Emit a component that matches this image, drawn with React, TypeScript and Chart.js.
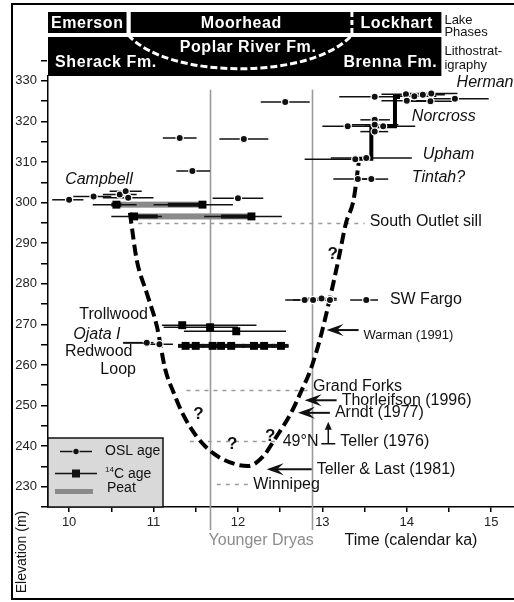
import { useEffect, useRef } from 'react';
import { Chart, registerables } from 'chart.js';

Chart.register(...registerables);

const FONT = '"Liberation Sans", Arial, Helvetica, sans-serif';
const INK = '#111';

// Axis tick values (calendar ka, metres a.s.l.)
const timeTicks = [10, 11, 12, 13, 14, 15];
const elevationTicks = [230, 240, 250, 260, 270, 280, 290, 300, 310, 320, 330];

// Lake phases (top band) and lithostratigraphic units
const lakePhaseNames = ['Emerson', 'Moorhead', 'Lockhart'];
const lakePhaseStart = [9.75, 10.73, 13.35];
const lakePhaseEnd = [10.68, 13.35, 14.41];
const formationNames = ['Sherack Fm.', 'Poplar River Fm.', 'Brenna Fm.'];
const poplarRiverSpan = [10.7, 13.35];

// Younger Dryas boundaries
const youngerDryas = [11.67, 12.88];

// OSL ages: central age, elevation and 1-sigma range
const oslTime = [12.56, 11.31, 12.07, 11.46, 12.0, 10.0, 10.29, 10.6, 10.67, 10.7, 10.92, 11.07, 13.62, 13.99, 14.09, 14.19, 14.29, 14.28, 14.0, 14.57, 13.3, 13.62, 13.62, 13.72, 13.62, 13.39, 13.52, 13.42, 13.58, 12.79, 12.89, 12.99, 13.09, 13.52];
const oslElevation = [324.8, 315.9, 315.7, 307.8, 301.1, 300.7, 301.5, 302.0, 302.8, 301.2, 265.5, 265.1, 326.1, 326.7, 326.2, 326.6, 326.9, 325.0, 325.1, 325.6, 318.8, 320.4, 319.2, 318.8, 317.5, 310.7, 311.0, 305.8, 305.8, 276.0, 276.0, 276.4, 276.0, 276.0];
const oslLow = [12.27, 11.11, 11.78, 11.27, 11.7, 9.8, 10.05, 10.4, 10.48, 10.4, 10.64, 10.9, 13.2, 13.7, 13.85, 13.9, 13.95, 14.0, 13.7, 14.3, 13.0, 13.45, 13.35, 13.5, 13.45, 12.79, 13.1, 13.13, 13.45, 12.56, 12.65, 12.8, 12.95, 13.33];
const oslHigh = [12.85, 11.51, 12.36, 11.67, 12.3, 10.17, 10.5, 10.8, 10.86, 11.0, 11.0, 11.23, 13.84, 14.25, 14.35, 14.45, 14.6, 14.55, 14.3, 14.97, 13.7, 13.8, 13.9, 14.1, 13.78, 13.6, 14.06, 13.6, 13.78, 12.95, 13.1, 13.17, 13.17, 13.66];

// Calibrated 14C ages: median, elevation, 1-sigma (thick) and 2-sigma (thin) ranges
const c14Time = [10.56, 11.58, 10.77, 12.16, 11.34, 11.67, 11.98, 11.38, 11.5, 11.7, 11.8, 11.92, 12.19, 12.31, 12.51];
const c14Elevation = [299.5, 299.5, 296.6, 296.6, 269.8, 269.3, 268.3, 264.7, 264.7, 264.7, 264.7, 264.7, 264.7, 264.7, 264.7];
const c14SigmaLow = [10.5, 11.17, 10.73, 11.8, 11.34, 11.67, 11.98, 11.29, 11.4, 11.58, 11.7, 11.78, 12.05, 12.2, 12.4];
const c14SigmaHigh = [10.62, 11.62, 11.05, 12.2, 11.34, 11.67, 11.98, 11.48, 11.6, 11.82, 11.92, 12.08, 12.32, 12.44, 12.6];
const c14RangeLow = [10.28, 11.0, 10.5, 11.6, 11.1, 11.12, 11.36, 11.29, 11.4, 11.58, 11.7, 11.78, 12.05, 12.2, 12.4];
const c14RangeHigh = [10.8, 11.94, 11.1, 12.52, 12.22, 12.0, 12.57, 11.48, 11.6, 11.82, 11.92, 12.08, 12.32, 12.44, 12.6];

// Peat layers between dated horizons
const peatElevation = [299.5, 296.6];
const peatStart = [10.56, 10.77];
const peatEnd = [11.58, 12.16];

// Inferred lake-level curve (dashed)
const curveTime = [10.72, 10.8, 10.92, 11.04, 11.14, 11.24, 11.34, 11.51, 11.71, 11.96, 12.12, 12.3, 12.43, 12.63, 12.76, 12.86, 12.98, 13.09, 13.19, 13.28, 13.37, 13.43];
const curveElevation = [297.5, 286.0, 277.7, 269.5, 258.8, 253.1, 248.2, 242.4, 238.2, 235.6, 235.1, 237.5, 241.5, 248.2, 254.0, 258.8, 267.0, 276.5, 285.9, 295.0, 300.7, 309.8];

// Strandline steps Upham -> Norcross -> Herman
const strandTime = [13.43, 13.58, 13.58, 13.86, 13.86, 13.92];
const strandElevation = [310.8, 310.8, 318.8, 318.8, 326.0, 326.0];

// Outlet and gauge datums
const datumNames = ['South Outlet sill', 'Grand Forks', '49°N', 'Winnipeg'];
const datumElevation = [295.1, 253.9, 241.3, 230.6];
const datumFrom = [10.82, 11.39, 11.43, 11.75];
const datumTo = [13.5, 12.88, 12.5, 12.12];

// Earlier lowstand estimates
const priorNames = ['Warman (1991)', 'Thorleifson (1996)', 'Arndt (1977)', 'Teller & Last (1981)'];
const priorTime = [13.05, 12.79, 12.71, 12.34];
const priorElevation = [268.6, 251.3, 248.2, 234.3];
const tellerName = 'Teller (1976)';
const tellerTime = 13.07;
const tellerElevation = 241.1;

type Label = { text: string; t: number; e: number; size?: number; italic?: boolean; bold?: boolean; color?: string };

const plotLabels: Label[] = [
  { text: 'Campbell', t: 9.953, e: 305.6, italic: true },
  { text: 'Herman', t: 14.59, e: 329.5, italic: true },
  { text: 'Norcross', t: 14.06, e: 321.1, italic: true },
  { text: 'Upham', t: 14.19, e: 311.8, italic: true },
  { text: 'Tintah?', t: 14.06, e: 306.1, italic: true },
  { text: datumNames[0], t: 13.56, e: 295.3 },
  { text: 'SW Fargo', t: 13.8, e: 276.1 },
  { text: 'Trollwood', t: 10.12, e: 272.4 },
  { text: 'Ojata I', t: 10.05, e: 267.4, italic: true },
  { text: 'Redwood', t: 9.95, e: 263.3 },
  { text: 'Loop', t: 10.37, e: 258.8 },
  { text: datumNames[1], t: 12.89, e: 254.6 },
  { text: datumNames[2], t: 12.53, e: 241.1 },
  { text: datumNames[3], t: 12.18, e: 230.5 },
  { text: '?', t: 13.06, e: 287.2, bold: true, size: 17 },
  { text: '?', t: 11.47, e: 247.8, bold: true, size: 17 },
  { text: '?', t: 11.87, e: 240.4, bold: true, size: 17 },
  { text: '?', t: 12.32, e: 242.5, bold: true, size: 17 },
];

function font(size: number, bold = false, italic = false) {
  return `${italic ? 'italic ' : ''}${bold ? 'bold ' : ''}${size}px ${FONT}`;
}

function leftArrow(ctx: CanvasRenderingContext2D, tip: number, y: number, tail: number) {
  const head = 17;
  ctx.beginPath();
  ctx.moveTo(tip + head * 0.6, y);
  ctx.lineTo(tail, y);
  ctx.lineWidth = 2;
  ctx.strokeStyle = INK;
  ctx.stroke();
  ctx.beginPath();
  ctx.moveTo(tip, y);
  ctx.lineTo(tip + head, y - 6);
  ctx.lineTo(tip + head * 0.62, y);
  ctx.lineTo(tip + head, y + 6);
  ctx.closePath();
  ctx.fillStyle = INK;
  ctx.fill();
}

const figurePlugin = {
  id: 'figureLayers',
  beforeDatasetsDraw(chart: any) {
    const { ctx, chartArea: ca, scales } = chart;
    const xs = scales.x;
    const ys = scales.y;
    ctx.save();

    // Younger Dryas boundaries
    ctx.strokeStyle = '#9a9a9a';
    ctx.lineWidth = 1.6;
    youngerDryas.forEach((t) => {
      const px = Math.round(xs.getPixelForValue(t)) + 0.5;
      ctx.beginPath();
      ctx.moveTo(px, ys.getPixelForValue(327.8));
      ctx.lineTo(px, ca.bottom + 23);
      ctx.stroke();
    });

    // datum lines
    ctx.setLineDash([4, 5]);
    ctx.lineWidth = 1.4;
    ctx.strokeStyle = '#9a9a9a';
    datumElevation.forEach((e, i) => {
      const py = Math.round(ys.getPixelForValue(e)) + 0.5;
      ctx.beginPath();
      ctx.moveTo(xs.getPixelForValue(datumFrom[i]), py);
      ctx.lineTo(xs.getPixelForValue(datumTo[i]), py);
      ctx.stroke();
    });
    ctx.setLineDash([]);

    // peat
    ctx.fillStyle = '#8a8a8a';
    peatElevation.forEach((e, i) => {
      const py = ys.getPixelForValue(e);
      const x0 = xs.getPixelForValue(peatStart[i]);
      const x1 = xs.getPixelForValue(peatEnd[i]);
      ctx.fillRect(x0, py - 3, x1 - x0, 6);
    });

    // OSL error bars
    ctx.strokeStyle = INK;
    ctx.lineWidth = 1.5;
    oslTime.forEach((_, i) => {
      const py = ys.getPixelForValue(oslElevation[i]);
      ctx.beginPath();
      ctx.moveTo(xs.getPixelForValue(oslLow[i]), py);
      ctx.lineTo(xs.getPixelForValue(oslHigh[i]), py);
      ctx.stroke();
    });

    // 14C ranges
    c14Time.forEach((_, i) => {
      const py = ys.getPixelForValue(c14Elevation[i]);
      ctx.lineWidth = 1.5;
      ctx.beginPath();
      ctx.moveTo(xs.getPixelForValue(c14RangeLow[i]), py);
      ctx.lineTo(xs.getPixelForValue(c14RangeHigh[i]), py);
      ctx.stroke();
      ctx.lineWidth = 4;
      ctx.beginPath();
      ctx.moveTo(xs.getPixelForValue(c14SigmaLow[i]), py);
      ctx.lineTo(xs.getPixelForValue(c14SigmaHigh[i]), py);
      ctx.stroke();
    });
    ctx.restore();
  },
  afterDatasetsDraw(chart: any) {
    const { ctx, chartArea: ca, scales } = chart;
    const xs = scales.x;
    const ys = scales.y;
    const X = (t: number) => xs.getPixelForValue(t);
    const Y = (e: number) => ys.getPixelForValue(e);
    ctx.save();

    // in-plot labels
    ctx.textBaseline = 'middle';
    ctx.textAlign = 'left';
    plotLabels.forEach((l) => {
      ctx.font = font(l.size ?? 16, l.bold, l.italic);
      ctx.fillStyle = l.color ?? INK;
      ctx.fillText(l.text, X(l.t), Y(l.e));
    });
    // leader under "Ojata I"
    ctx.strokeStyle = INK;
    ctx.lineWidth = 1.2;
    ctx.beginPath();
    ctx.moveTo(X(10.64), Y(265.5) + 0.5);
    ctx.lineTo(X(10.9), Y(265.5) + 0.5);
    ctx.stroke();

    // earlier estimates
    priorNames.forEach((name, i) => {
      const tip = X(priorTime[i]);
      const py = Y(priorElevation[i]);
      const len = i === 3 ? 45 : 32;
      leftArrow(ctx, tip, py, tip + len);
      ctx.fillStyle = INK;
      ctx.font = font(i === 0 ? 13 : 16);
      ctx.fillText(name, tip + len + 5, py + (i === 0 ? 5 : 0));
    });
    // minimum estimate with upward arrow
    {
      const px = X(tellerTime);
      const py = Y(tellerElevation);
      ctx.strokeStyle = INK;
      ctx.lineWidth = 1.5;
      ctx.beginPath();
      ctx.moveTo(px - 7, py + 2);
      ctx.lineTo(px + 7, py + 2);
      ctx.moveTo(px, py + 2);
      ctx.lineTo(px, py - 14);
      ctx.stroke();
      ctx.beginPath();
      ctx.moveTo(px, py - 20);
      ctx.lineTo(px - 3.5, py - 12);
      ctx.lineTo(px + 3.5, py - 12);
      ctx.closePath();
      ctx.fillStyle = INK;
      ctx.fill();
      ctx.font = font(16);
      ctx.fillText(tellerName, px + 12, py);
    }

    // header bands
    const top = ca.top;
    const r1 = { y0: top - 64, y1: top - 43 };
    const r2 = { y0: top - 39, y1: top };
    const headEnd = X(lakePhaseEnd[2]);
    ctx.fillStyle = '#000';
    ctx.fillRect(ca.left, r1.y0, X(lakePhaseEnd[0]) - ca.left, r1.y1 - r1.y0);
    ctx.fillRect(X(lakePhaseStart[1]), r1.y0, headEnd - X(lakePhaseStart[1]), r1.y1 - r1.y0);
    ctx.fillRect(ca.left, r2.y0, headEnd - ca.left, r2.y1 - r2.y0);
    ctx.strokeStyle = '#fff';
    ctx.lineWidth = 3;
    ctx.setLineDash([5, 3]);
    const bx = X(lakePhaseStart[2]);
    ctx.beginPath();
    ctx.moveTo(bx, r1.y0);
    ctx.lineTo(bx, r1.y1 + 2);
    ctx.stroke();
    const c0 = X(poplarRiverSpan[0]);
    const c1 = X(poplarRiverSpan[1]);
    ctx.setLineDash([7, 3]);
    ctx.beginPath();
    ctx.moveTo(c0, r2.y0 - 2);
    ctx.bezierCurveTo(c0 + 40, r2.y1 + 4, c1 - 40, r2.y1 + 4, c1, r2.y0 - 2);
    ctx.stroke();
    ctx.setLineDash([]);

    ctx.fillStyle = '#fff';
    ctx.font = font(16, true);
    (ctx as any).letterSpacing = '0.6px';
    ctx.textAlign = 'center';
    lakePhaseNames.forEach((name, i) => {
      const a = i === 0 ? ca.left : X(lakePhaseStart[i]);
      const b = X(lakePhaseEnd[i]);
      ctx.fillText(name, (a + b) / 2, (r1.y0 + r1.y1) / 2 + 1);
    });
    ctx.fillText(formationNames[1], (c0 + c1) / 2 + 8, r2.y0 + 11);
    ctx.textAlign = 'left';
    ctx.fillText(formationNames[0], ca.left + 7, r2.y1 - 13);
    ctx.textAlign = 'right';
    ctx.fillText(formationNames[2], headEnd - 4, r2.y1 - 13);
    (ctx as any).letterSpacing = '0px';

    ctx.fillStyle = INK;
    ctx.textAlign = 'left';
    ctx.font = font(13);
    ctx.fillText('Lake', headEnd + 3, r1.y0 + 8);
    ctx.fillText('Phases', headEnd + 3, r1.y0 + 20);
    ctx.fillText('Lithostrat-', headEnd + 3, r2.y0 + 14);
    ctx.fillText('igraphy', headEnd + 3, r2.y0 + 28);

    // legend
    const lx0 = ca.left;
    const lx1 = 163;
    const ly0 = 438;
    ctx.fillStyle = '#d9d9d9';
    ctx.fillRect(lx0, ly0, lx1 - lx0, ca.bottom - ly0);
    ctx.strokeStyle = INK;
    ctx.lineWidth = 1.5;
    ctx.strokeRect(lx0, ly0, lx1 - lx0, ca.bottom - ly0);
    ctx.lineWidth = 1.5;
    ctx.beginPath();
    ctx.moveTo(60, 451.5);
    ctx.lineTo(92, 451.5);
    ctx.stroke();
    ctx.beginPath();
    ctx.arc(76, 451.5, 3.6, 0, Math.PI * 2);
    ctx.fillStyle = '#d9d9d9';
    ctx.fill();
    ctx.beginPath();
    ctx.arc(76, 451.5, 2.7, 0, Math.PI * 2);
    ctx.fillStyle = INK;
    ctx.fill();
    ctx.beginPath();
    ctx.moveTo(55, 473.5);
    ctx.lineTo(97, 473.5);
    ctx.stroke();
    ctx.fillRect(72, 469.5, 8, 8);
    ctx.fillStyle = '#8a8a8a';
    ctx.fillRect(55, 489, 38, 5);
    ctx.fillStyle = INK;
    ctx.font = font(14);
    ctx.fillText('OSL age', 105, 451);
    ctx.fillText('C age', 114, 474);
    ctx.font = font(8);
    ctx.fillText('14', 105, 470);
    ctx.font = font(14);
    ctx.fillText('Peat', 107, 488);

    // axis titles
    ctx.font = font(16);
    ctx.textAlign = 'center';
    ctx.fillStyle = '#8c8c8c';
    ctx.fillText('Younger Dryas', (X(youngerDryas[0]) + X(youngerDryas[1])) / 2, ca.bottom + 34);
    ctx.fillStyle = INK;
    ctx.fillText('Time (calendar ka)', 411, ca.bottom + 34);
    ctx.save();
    ctx.translate(22, 552);
    ctx.rotate(-Math.PI / 2);
    ctx.font = font(14);
    ctx.fillText('Elevation (m)', 0, 0);
    ctx.restore();

    // figure frame (open on the right, where the panel is cut)
    ctx.strokeStyle = '#000';
    ctx.lineWidth = 2;
    ctx.beginPath();
    ctx.moveTo(514, 4);
    ctx.lineTo(12, 4);
    ctx.lineTo(12, 599);
    ctx.lineTo(514, 599);
    ctx.stroke();
    ctx.restore();
  },
};

export default function App() {
  const ref = useRef<HTMLCanvasElement>(null);

  useEffect(() => {
    const minorTime: number[] = [];
    timeTicks.forEach((t) => minorTime.push(t, t + 0.5));
    const minorElevation: number[] = [225];
    elevationTicks.forEach((e) => minorElevation.push(e, e + 5));

    const chart = new Chart(ref.current as HTMLCanvasElement, {
      type: 'scatter',
      data: {
        datasets: [
          {
            label: 'OSL age',
            data: oslTime.map((t, i) => ({ x: t, y: oslElevation[i] })),
            pointStyle: 'circle',
            pointRadius: 3.6,
            pointBackgroundColor: INK,
            pointBorderColor: '#fff',
            pointBorderWidth: 1.2,
          },
          {
            label: '14C age',
            data: c14Time.map((t, i) => ({ x: t, y: c14Elevation[i] })),
            pointStyle: 'rect',
            pointRadius: 5.6,
            pointBackgroundColor: '#000',
            pointBorderWidth: 0,
          },
          {
            label: 'Strandlines',
            data: strandTime.map((t, i) => ({ x: t, y: strandElevation[i] })),
            showLine: true,
            borderColor: '#000',
            borderWidth: 4,
            pointRadius: 0,
            tension: 0,
          },
          {
            label: 'Lake level',
            data: curveTime.map((t, i) => ({ x: t, y: curveElevation[i] })),
            showLine: true,
            borderColor: '#000',
            borderWidth: 4,
            borderDash: [11, 5],
            pointRadius: 0,
            cubicInterpolationMode: 'monotone',
          },
        ],
      } as any,
      options: {
        animation: false,
        responsive: false,
        devicePixelRatio: 1,
        layout: { autoPadding: false, padding: { left: 12, top: 76, right: 0, bottom: 65 } },
        plugins: { legend: { display: false }, tooltip: { enabled: false } },
        scales: {
          x: {
            type: 'linear',
            min: 9.75,
            max: 15.27,
            afterBuildTicks: (s: any) => {
              s.ticks = minorTime.filter((v) => v <= 15.27).map((v) => ({ value: v }));
            },
            afterFit: (s: any) => {
              s.height = 30;
            },
            ticks: {
              autoSkip: false,
              maxRotation: 0,
              padding: 3,
              color: '#222',
              font: { family: FONT, size: 13 },
              callback: (v: any) => (timeTicks.includes(Number(v)) ? String(v) : ''),
            },
            grid: { drawOnChartArea: false, drawTicks: true, tickLength: 5, color: '#000', lineWidth: 1.5 },
            border: { color: '#000', width: 1.5 },
          },
          y: {
            type: 'linear',
            min: 225,
            max: 331.2,
            afterBuildTicks: (s: any) => {
              s.ticks = minorElevation.map((v) => ({ value: v }));
            },
            afterFit: (s: any) => {
              s.width = 36;
            },
            ticks: {
              autoSkip: false,
              padding: 4,
              color: '#222',
              font: { family: FONT, size: 13 },
              callback: (v: any) => (elevationTicks.includes(Number(v)) ? String(v) : ''),
            },
            grid: { drawOnChartArea: false, drawTicks: true, tickLength: 7, color: '#000', lineWidth: 1.5 },
            border: { color: '#000', width: 1.5 },
          },
        },
      } as any,
      plugins: [figurePlugin],
    });
    return () => chart.destroy();
  }, []);

  return (
    <div style={{ position: 'absolute', left: 0, top: 0, width: 514, height: 602, background: '#fff' }}>
      <canvas ref={ref} width={514} height={602} style={{ display: 'block', width: 514, height: 602 }} />
    </div>
  );
}
